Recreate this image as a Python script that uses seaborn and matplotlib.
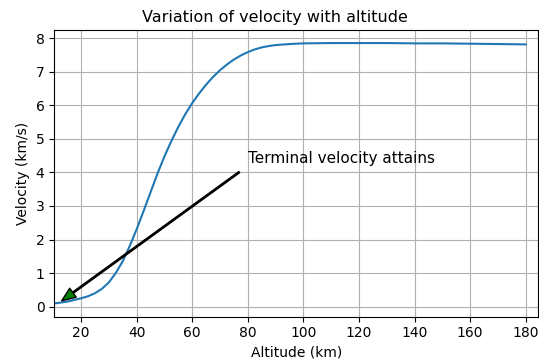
import matplotlib
matplotlib.use("Agg")
import matplotlib.pyplot as plt
import seaborn as sns
import pandas as pd

altitude = [10, 12.5, 15, 17.5, 20, 22.5, 25, 27.5, 30, 32.5, 35, 37.5, 40, 42.5, 45,
            47.5, 50, 52.5, 55, 57.5, 60, 62.5, 65, 67.5, 70, 72.5, 75, 77.5, 80,
            82.5, 85, 87.5, 90, 95, 100, 110, 120, 130, 140, 150, 160, 170, 180]
velocity = [0.09, 0.12, 0.15, 0.2, 0.25, 0.31, 0.4, 0.53, 0.72, 1.0, 1.35, 1.8, 2.3,
            2.84, 3.4, 3.96, 4.47, 4.93, 5.35, 5.73, 6.06, 6.35, 6.61, 6.84, 7.04, 7.21,
            7.36, 7.48, 7.58, 7.66, 7.72, 7.76, 7.79, 7.82, 7.84, 7.85, 7.85, 7.85,
            7.84, 7.84, 7.83, 7.82, 7.81]

annot_text = "Terminal velocity attains"
annot_xy = (11, 0.05)
annot_xytext = (80, 4.28)

df = pd.DataFrame({"Altitude": altitude, "Velocity": velocity})

fig = plt.figure(figsize=(5.39, 3.59), dpi=100)
ax = fig.add_axes([0.1007, 0.1178, 0.898, 0.7986])
sns.lineplot(data=df, x="Altitude", y="Velocity", ax=ax)
ax.set_xlim(10.4, 184.5)
ax.grid(True)
ax.set_title("Variation of velocity with altitude", fontsize=11.5, x=0.456)
ax.set_xlabel("Altitude (km)")
ax.set_ylabel("Velocity (km/s)")
ax.annotate(annot_text, xy=annot_xy, xytext=annot_xytext,
            fontsize=11, annotation_clip=False,
            arrowprops=dict(facecolor="green", edgecolor="black", width=1,
                            headwidth=8, headlength=10, shrink=0.03))
fig.savefig("out.png", dpi=100)
